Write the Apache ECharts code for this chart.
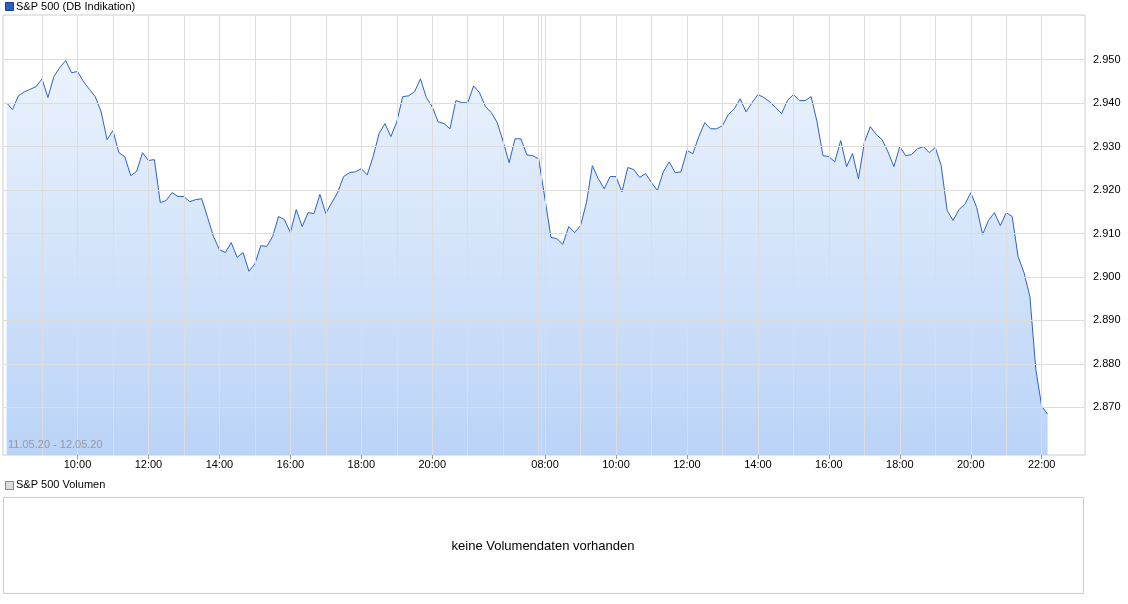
<!DOCTYPE html>
<html>
<head>
<meta charset="utf-8">
<script src="https://cdn.jsdelivr.net/npm/echarts@6/dist/echarts.min.js"></script>
<style>
  html, body { margin: 0; padding: 0; background: #fff; }
  #chart { width: 1128px; height: 604px; }
</style>
</head>
<body>
<div id="chart"></div>
<script>
// 11.05.20, 08:00 - 23:00, 10-Minuten-Werte
var day1Values = [
  2940.1, 2938.5, 2941.7, 2942.6, 2943.2, 2943.8, 2945.6, 2941.3, 2946.1, 2948.2,
  2949.8, 2947.0, 2947.3, 2945.0, 2943.2, 2941.5, 2938.0, 2931.6, 2933.7, 2928.6,
  2927.7, 2923.3, 2924.3, 2928.6, 2926.8, 2927.0, 2917.1, 2917.6, 2919.4, 2918.5,
  2918.5, 2917.3, 2917.8, 2918.0, 2913.7, 2909.3, 2906.3, 2905.6, 2907.9, 2904.5,
  2905.6, 2901.3, 2903.0, 2907.2, 2907.0, 2909.3, 2913.9, 2913.2, 2910.2, 2915.5,
  2911.6, 2914.8, 2914.6, 2919.0, 2914.6, 2917.1, 2919.4, 2923.1, 2924.0, 2924.2,
  2924.9, 2923.5, 2927.7, 2933.0, 2935.3, 2932.3, 2935.7, 2941.5, 2941.7, 2942.6,
  2945.6, 2941.3, 2939.2, 2935.7, 2935.3, 2934.1, 2940.6, 2940.1, 2940.1, 2944.0,
  2942.4, 2939.2, 2937.8, 2935.5, 2931.1, 2926.3, 2931.8, 2931.8, 2928.1, 2927.9,
  2927.2
];
// 12.05.20, ab 08:00, 10-Minuten-Werte
var day2Values = [
  2917.8, 2909.1, 2908.8, 2907.5, 2911.6, 2910.2, 2911.8, 2917.1, 2925.6, 2922.6,
  2920.3, 2923.1, 2923.1, 2919.6, 2925.2, 2924.7, 2922.9, 2923.8, 2921.7, 2919.9,
  2924.2, 2926.5, 2924.0, 2924.2, 2929.1, 2928.4, 2932.3, 2935.5, 2934.1, 2934.1,
  2934.8, 2937.4, 2938.7, 2941.0, 2938.0, 2940.1, 2942.0, 2941.3, 2940.3, 2939.0,
  2937.6, 2940.6, 2942.0, 2940.6, 2940.6, 2941.5, 2935.7, 2927.9, 2927.7, 2926.5,
  2931.4, 2925.4, 2928.4, 2922.6, 2930.9, 2934.6, 2932.8, 2931.6, 2928.8, 2925.4,
  2930.0, 2927.9, 2928.2, 2929.5, 2930.0, 2928.6, 2929.8, 2925.6, 2915.3, 2913.0,
  2915.5, 2916.7, 2919.4, 2916.0, 2909.8, 2913.0, 2914.8, 2911.8, 2914.8, 2913.9,
  2904.7, 2901.0, 2895.5, 2878.7, 2870.2, 2868.4
];
var yTicks = [2870, 2880, 2890, 2900, 2910, 2920, 2930, 2940, 2950];
var day1Labels = ['10:00', '12:00', '14:00', '16:00', '18:00', '20:00'];
var day2Labels = ['08:00', '10:00', '12:00', '14:00', '16:00', '18:00', '20:00', '22:00'];

// Achse in Stunden ab 11.05. 08:00; Tag 2 beginnt nach Sitzungspause
var DAY2_START = 15.18;
var SEPARATOR = 15.07;

var data = [];
day1Values.forEach(function (v, i) { data.push([i / 6, v]); });
day2Values.forEach(function (v, i) { data.push([DAY2_START + i / 6, v]); });

function hourPos(label, day) {
  var h = parseInt(label, 10);
  return day === 1 ? h - 8 : DAY2_START + h - 8;
}
var labelPos = [];
var labelText = {};
day1Labels.forEach(function (l) { var p = hourPos(l, 1); labelPos.push(p); labelText[p.toFixed(2)] = l; });
day2Labels.forEach(function (l) { var p = hourPos(l, 2); labelPos.push(p); labelText[p.toFixed(2)] = l; });

var vLines = [];
for (var h = 1; h <= 15; h++) vLines.push({ xAxis: h });
vLines.push({ xAxis: SEPARATOR });
for (var k = 0; k <= 14; k++) vLines.push({ xAxis: DAY2_START + k });
var hLines = yTicks.map(function (y) { return { yAxis: y }; });

var font = 'Liberation Sans, Arial, sans-serif';
var chart = echarts.init(document.getElementById('chart'));
chart.setOption({
  animation: false,
  textStyle: { fontFamily: font },
  grid: { left: 3, top: 15, width: 1082, height: 440, show: true, borderColor: '#cccccc', borderWidth: 1, backgroundColor: '#fff' },
  xAxis: {
    type: 'value', min: -0.1, max: 30.4,
    splitLine: { show: false },
    axisLine: { show: false },
    axisTick: { show: true, customValues: labelPos, length: 4, lineStyle: { color: '#999' } },
    axisLabel: {
      customValues: labelPos, color: '#000', fontSize: 11, margin: 4, fontFamily: font,
      formatter: function (v) { return labelText[v.toFixed(2)] || ''; }
    }
  },
  yAxis: {
    type: 'value', position: 'right', min: 2859, max: 2960.3,
    splitLine: { show: false },
    axisLine: { show: false },
    axisTick: { show: false },
    axisLabel: {
      customValues: yTicks, color: '#000', fontSize: 11, margin: 8, fontFamily: font,
      formatter: function (v) { return (v / 1000).toFixed(3); }
    }
  },
  series: [
    {
      type: 'line', data: [], silent: true, z: 1,
      markLine: {
        silent: true, symbol: 'none', label: { show: false },
        lineStyle: { color: '#dddddd', width: 1, type: 'solid' },
        data: vLines.concat(hLines)
      }
    },
    {
      type: 'line', data: data, showSymbol: false, z: 3,
      lineStyle: { color: '#2c62c8', width: 1 },
      areaStyle: {
        opacity: 1,
        color: new echarts.graphic.LinearGradient(0, 0, 0, 1, [
          { offset: 0, color: 'rgba(232,241,253,0.85)' },
          { offset: 1, color: 'rgba(176,205,246,0.88)' }
        ])
      }
    }
  ],
  graphic: [
    { type: 'rect', left: 5, top: 2, shape: { width: 8, height: 8 }, style: { fill: '#2a5fc4', stroke: '#1a3f8a' } },
    { type: 'text', left: 16, top: 1, style: { text: 'S&P 500 (DB Indikation)', font: '11px ' + font, fill: '#000' } },
    { type: 'text', left: 8, top: 439, z: 100, style: { text: '11.05.20 - 12.05.20', font: '11px ' + font, fill: '#999999' } },
    { type: 'rect', left: 5, top: 481, shape: { width: 8, height: 8 }, style: { fill: '#dddddd', stroke: '#888' } },
    { type: 'text', left: 16, top: 479, style: { text: 'S&P 500 Volumen', font: '11px ' + font, fill: '#000' } },
    { type: 'rect', left: 3, top: 497, shape: { width: 1080, height: 96 }, style: { fill: '#fff', stroke: '#cccccc', lineWidth: 1 } },
    { type: 'text', x: 543, y: 546, style: { text: 'keine Volumendaten vorhanden', font: '13px ' + font, fill: '#000', align: 'center', verticalAlign: 'middle' } }
  ]
});
</script>
</body>
</html>
